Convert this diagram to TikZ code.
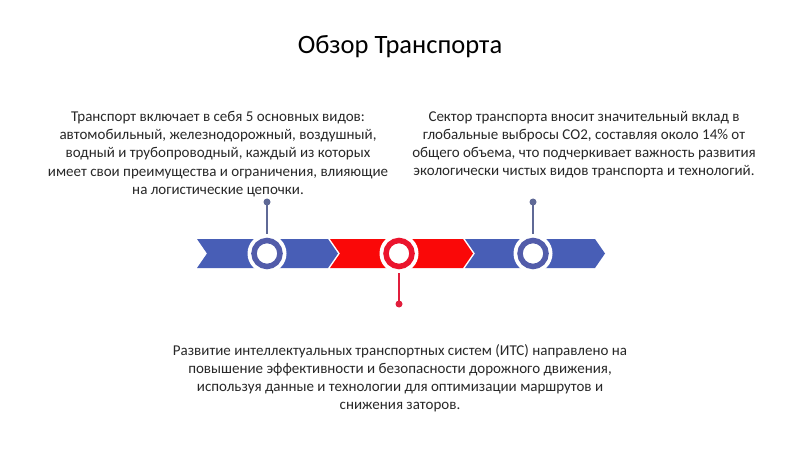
\documentclass[tikz,border=0pt]{standalone}
\usepackage{fontspec}
\setmainfont{Carlito}
\definecolor{segblue}{RGB}{72,94,182}
\definecolor{segred}{RGB}{250,8,8}
\definecolor{ringblue}{RGB}{82,92,170}
\definecolor{ringred}{RGB}{235,20,45}
\definecolor{stemblue}{RGB}{95,105,150}
\definecolor{stemred}{RGB}{225,30,60}
\definecolor{txt}{RGB}{40,40,40}
\begin{document}
\begin{tikzpicture}[x=1pt,y=-1pt,
  bodytext/.style={font=\fontsize{15}{18.2}\selectfont, text=txt, align=center, inner sep=0pt},
  ring/.style={circle, draw=#1, line width=5.5pt, fill=white, minimum size=26pt, inner sep=0pt},
  halo/.style={circle, fill=white, minimum size=39pt, inner sep=0pt},
  tipdot/.style={circle, fill=#1, minimum size=7pt, inner sep=0pt},
  stem/.style={draw=#1, line width=1.4pt}]
\useasboundingbox (0,0) rectangle (800,449);
\fill[white] (0,0) rectangle (800,449);
% title
\node[font=\fontsize{26.5}{30}\selectfont, text=black] (title) at (400,47) {Обзор Транспорта};
% chevrons
\def\ct{239}\def\cb{268}\def\cm{253.5}
\fill[segblue] (197,\ct) -- (328,\ct) -- (338,\cm) -- (328,\cb) -- (197,\cb) -- (207,\cm) -- cycle;
\fill[segred] (330,\ct) -- (463,\ct) -- (473,\cm) -- (463,\cb) -- (330,\cb) -- (340,\cm) -- cycle;
\fill[segblue] (465,\ct) -- (595,\ct) -- (605,\cm) -- (595,\cb) -- (465,\cb) -- (475,\cm) -- cycle;
% halos and rings
\node[halo] (h1) at (267,\cm) {};
\node[halo] (h2) at (399,\cm) {};
\node[halo] (h3) at (533,\cm) {};
\node[ring=ringblue] (c1) at (267,\cm) {};
\node[ring=ringred] (c2) at (399,\cm) {};
\node[ring=ringblue] (c3) at (533,\cm) {};
% stems
\node[tipdot=stemblue] (d1) at (267,202) {};
\node[tipdot=stemred] (d2) at (399,304) {};
\node[tipdot=stemblue] (d3) at (533,202) {};
\draw[stem=stemblue] (h1.north) -- (d1.center);
\draw[stem=stemred] (h2.south) -- (d2.center);
\draw[stem=stemblue] (h3.north) -- (d3.center);
% texts
\node[bodytext, anchor=north] (t1) at (218,111) {Транспорт включает в себя 5 основных видов:\\автомобильный, железнодорожный, воздушный,\\водный и трубопроводный, каждый из которых\\имеет свои преимущества и ограничения, влияющие\\на логистические цепочки.};
\node[bodytext, anchor=north] (t2) at (584,111) {Сектор транспорта вносит значительный вклад в\\глобальные выбросы CO2, составляя около 14\% от\\общего объема, что подчеркивает важность развития\\экологически чистых видов транспорта и технологий.};
\node[bodytext, anchor=north] (t3) at (400,344) {Развитие интеллектуальных транспортных систем (ИТС) направлено на\\повышение эффективности и безопасности дорожного движения,\\используя данные и технологии для оптимизации маршрутов и\\снижения заторов.};
\end{tikzpicture}
\end{document}
